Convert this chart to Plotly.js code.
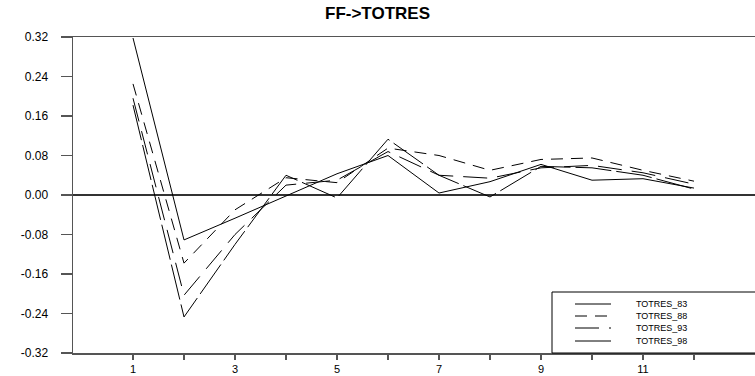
<!DOCTYPE html>
<html><head><meta charset="utf-8">
<script src="https://cdn.plot.ly/plotly-3.0.1.min.js"></script>
<style>body{margin:0;background:#fff}#c{width:755px;height:376px}</style>
</head><body><div id="c"></div>
<script>
const lags = [1,2,3,4,5,6,7,8,9,10,11,12];
const seriesNames = ["TOTRES_83","TOTRES_88","TOTRES_93","TOTRES_98"];
const totres83 = [0.318,-0.091,-0.047,-0.002,0.043,0.080,0.004,0.027,0.062,0.030,0.033,0.014];
const totres88 = [0.225,-0.138,-0.030,0.035,0.025,0.095,0.080,0.050,0.072,0.075,0.050,0.028];
const totres93 = [0.196,-0.203,-0.080,0.020,0.030,0.088,0.040,0.034,0.055,0.060,0.045,0.022];
const totres98 = [0.182,-0.247,-0.100,0.040,-0.006,0.113,0.040,-0.004,0.058,0.055,0.040,0.012];
const xTickVals = [1,2,3,4,5,6,7,8,9,10,11,12];
const xTickText = ["1","","3","","5","","7","","9","","11",""];
const yTickVals = [-0.32,-0.24,-0.16,-0.08,0,0.08,0.16,0.24,0.32];
const yTickText = ["-0.32","-0.24","-0.16","-0.08","0.00","0.08","0.16","0.24","0.32"];

const allSeries = [totres83,totres88,totres93,totres98];
const dashes = ["solid","12px,8px","24px,10px","36px,5px"];

const traces = allSeries.map((ys,i)=>({
  x: lags, y: ys, type:"scatter", mode:"lines", name: seriesNames[i],
  line:{color:"#000", width:1, dash:dashes[i]}, showlegend:false
}));

// plot area pixel geometry
const L=73, R=755, T=37, B=353;
const px = v => (v-L)/(R-L);
const py = v => (B-v)/(B-T);

const shapes = [{type:"rect", xref:"paper", yref:"paper", x0:px(552), x1:1.02, y0:0, y1:py(292),
  line:{color:"#000", width:1}, fillcolor:"#fff", layer:"above"}];
const annotations = [];
const legY = [304,316,328,341];
seriesNames.forEach((n,i)=>{
  shapes.push({type:"line", xref:"paper", yref:"paper", x0:px(575), x1:px(611), y0:py(legY[i]), y1:py(legY[i]),
    line:{color:"#000", width:1, dash:dashes[i]}, layer:"above"});
  annotations.push({xref:"paper", yref:"paper", x:px(634), y:py(legY[i]), xanchor:"left", yanchor:"middle",
    text:n, showarrow:false, font:{size:9, color:"#000"}});
});

const layout = {
  width:755, height:376,
  margin:{l:L, r:0, t:T, b:376-B, pad:0},
  paper_bgcolor:"#fff", plot_bgcolor:"#fff",
  font:{family:"Liberation Sans, Arial, sans-serif", size:12, color:"#000"},
  title:{text:"<b>FF->TOTRES</b>", x:0.5, xref:"container", xanchor:"center", y:0.965, yanchor:"middle",
    font:{size:17, color:"#000"}},
  xaxis:{range:[1-60/51, 1-60/51+(R-L)/51], tickmode:"array", tickvals:xTickVals, ticktext:xTickText,
    ticks:"outside", ticklen:5, tickcolor:"#555", tickwidth:1.5, showgrid:false, zeroline:false,
    showline:true, linecolor:"#555", linewidth:1.5, mirror:true, tickfont:{size:11}, ticklabelstandoff:0},
  yaxis:{range:[-0.32,0.32], tickmode:"array", tickvals:yTickVals, ticktext:yTickText,
    ticks:"outside", ticklen:11, tickcolor:"#555", tickwidth:1.5, showgrid:false,
    zeroline:true, zerolinecolor:"#333", zerolinewidth:1.5, showline:true, linecolor:"#555", linewidth:1.5,
    ticklabelstandoff:10, tickfont:{size:12}},
  shapes: shapes, annotations: annotations, showlegend:false
};
Plotly.newPlot("c", traces, layout, {staticPlot:true});
</script></body></html>
